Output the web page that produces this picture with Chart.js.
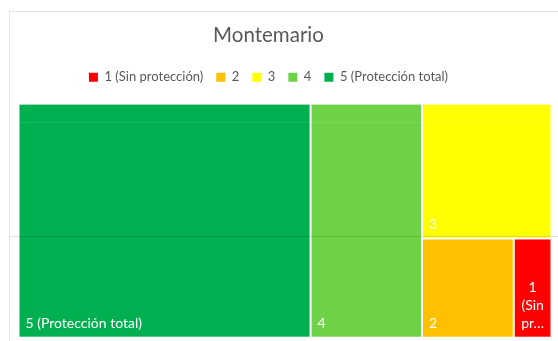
<!DOCTYPE html>
<html>
<head>
<meta charset="utf-8">
<title>Montemario</title>
<script src="https://cdn.jsdelivr.net/npm/chart.js@4.4.1/dist/chart.umd.min.js"></script>
<style>
  html, body { margin: 0; padding: 0; background: #fff; overflow: hidden; }
  #wrap { position: relative; width: 558px; height: 341px; }
  #frame { position: absolute; left: 9px; top: 11px; width: 560px; height: 340px; border: 1px solid #e4e4e4; box-sizing: border-box; }
  .rule { position: absolute; height: 1px; pointer-events: none; }
  #chart { position: absolute; left: 0; top: 0; }
</style>
</head>
<body>
<div id="wrap">
  <div id="frame"></div>
  <canvas id="chart" width="558" height="341"></canvas>
  <div class="rule" style="left:19px; width:539px; top:122px; background:rgba(255,255,255,0.09)"></div>
  <div class="rule" style="left:9px; width:549px; top:236px; background:rgba(0,0,0,0.12)"></div>
</div>
<script>
const categories = ["1 (Sin protección)", "2", "3", "4", "5 (Protección total)"];
const values = [3.0, 7.3, 14.0, 20.9, 54.8];
const colors = ["#FF0000", "#FFC000", "#FFFF00", "#6ED246", "#00B050"];

// Lay out the cells on a 0..100 x 0..100 grid: each item (largest first)
// takes its share of the remaining space, cut across the longer side.
function layoutCells(items, pxPerX, pxPerY) {
  const cells = [];
  let rest = items.reduce((s, it) => s + it.value, 0);
  let x = 0, y = 0, w = 100, h = 100;
  items.forEach((it) => {
    const frac = it.value / rest;
    if (w * pxPerX >= h * pxPerY) {
      const cw = w * frac;
      cells.push({ ...it, x0: x, x1: x + cw, y0: y, y1: y + h });
      x += cw;
      w -= cw;
    } else {
      const ch = h * frac;
      cells.push({ ...it, x0: x, x1: x + w, y0: y, y1: y + ch });
      y += ch;
      h -= ch;
    }
    rest -= it.value;
  });
  return cells;
}

// Break a label into lines that fit the cell, cutting long words with an ellipsis
function fitLines(ctx, text, maxW) {
  if (ctx.measureText(text).width <= maxW) return [text];
  return text.split(" ").map((word) => {
    if (ctx.measureText(word).width <= maxW) return word;
    let s = word;
    while (s.length > 1 && ctx.measureText(s + "…").width > maxW) s = s.slice(0, -1);
    return s + "…";
  });
}

const treemapCells = {
  id: "treemapCells",
  afterDatasetsDraw(chart) {
    const { ctx, chartArea } = chart;
    const xScale = chart.scales.x;
    const yScale = chart.scales.y;
    const items = categories
      .map((label, i) => ({ label, value: values[i], color: colors[i], index: i }))
      .filter((it) => chart.isDatasetVisible(it.index))
      .sort((a, b) => b.value - a.value);
    const cells = layoutCells(items, chartArea.width / 100, chartArea.height / 100);

    ctx.save();
    ctx.font = "14px Lato";
    ctx.textBaseline = "alphabetic";
    cells.forEach((c) => {
      const left = xScale.getPixelForValue(c.x0);
      const right = xScale.getPixelForValue(c.x1);
      const top = yScale.getPixelForValue(c.y0);
      const bottom = yScale.getPixelForValue(c.y1);
      ctx.fillStyle = c.color;
      ctx.fillRect(left + 1, top + 1, right - left - 2, bottom - top - 2);

      ctx.fillStyle = "#ffffff";
      const lines = fitLines(ctx, c.label, right - left - 12);
      const base = bottom - 9.5;
      if (lines.length === 1) {
        ctx.textAlign = "left";
        ctx.fillText(lines[0], left + 7, base);
      } else {
        ctx.textAlign = "center";
        const cx = (left + right) / 2;
        lines.forEach((line, k) => {
          ctx.fillText(line, cx, base - (lines.length - 1 - k) * 18);
        });
      }
    });
    ctx.restore();
  },
};

Chart.defaults.font.family = "Lato";
Chart.defaults.color = "#595959";

const ctx = document.querySelector("#chart").getContext("2d");

const montemarioChart = new Chart(ctx, {
  type: "scatter",
  data: {
    datasets: categories.map((label, i) => ({
      label: label,
      data: [],
      backgroundColor: colors[i],
      borderColor: colors[i],
      borderWidth: 0,
      pointRadius: 0,
    })),
  },
  options: {
    responsive: false,
    animation: false,
    events: [],
    layout: {
      padding: { left: -14.5, right: 6.5, top: 0, bottom: 3.3 },
    },
    scales: {
      x: {
        position: "top",
        min: 0,
        max: 100,
        ticks: { display: false },
        grid: { display: false },
        border: { display: false },
        afterFit: (scale) => {
          scale.height = 9.8;
        },
      },
      y: {
        position: "left",
        reverse: true,
        min: 0,
        max: 100,
        ticks: { display: false },
        grid: { display: false },
        border: { display: false },
        afterFit: (scale) => {
          scale.width = 33;
        },
      },
    },
    plugins: {
      title: {
        display: true,
        text: "Montemario",
        color: "#595959",
        font: { size: 20.5, weight: "normal" },
        padding: { top: 22.7, bottom: 10.5 },
      },
      legend: {
        display: true,
        position: "top",
        labels: {
          boxWidth: 9,
          boxHeight: 9,
          padding: 13,
          color: "#595959",
          font: { size: 13 },
        },
      },
      tooltip: { enabled: false },
    },
  },
  plugins: [treemapCells],
});
</script>
</body>
</html>
